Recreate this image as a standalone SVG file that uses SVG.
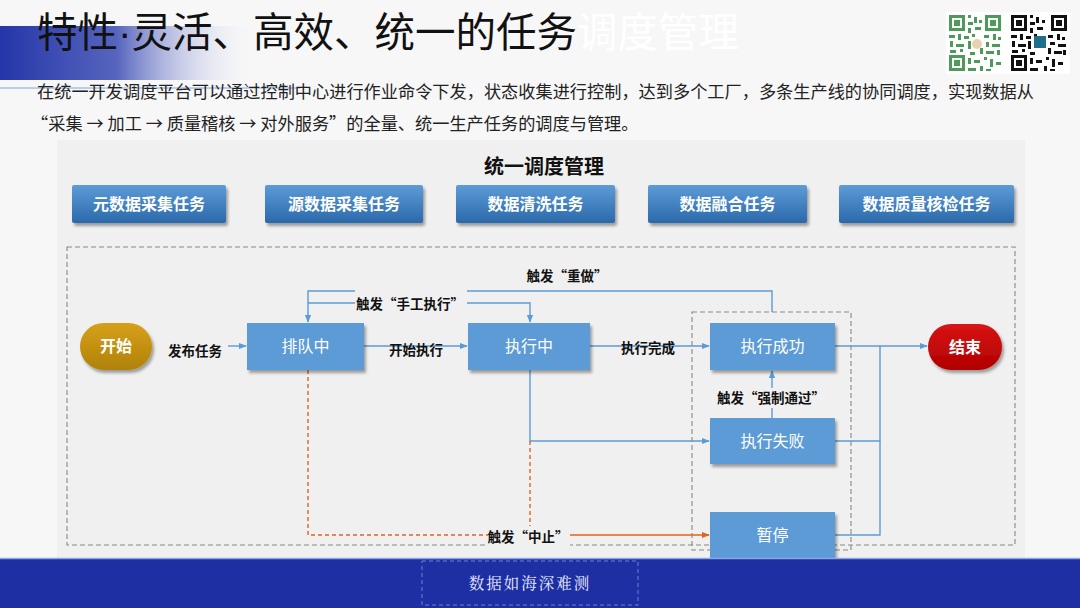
<svg xmlns="http://www.w3.org/2000/svg" width="1080" height="608" viewBox="0 0 1080 608">
<defs>
<linearGradient id="band" x1="0" y1="0" x2="1" y2="0">
<stop offset="0" stop-color="#2436a8"/>
<stop offset="0.45" stop-color="#3a4bb4" stop-opacity="0.85"/>
<stop offset="1" stop-color="#ffffff" stop-opacity="0"/>
</linearGradient>
<linearGradient id="topbox" x1="0" y1="0" x2="0" y2="1">
<stop offset="0" stop-color="#5d9bd8"/>
<stop offset="1" stop-color="#2a69aa"/>
</linearGradient>
<linearGradient id="gold" x1="0" y1="0" x2="0" y2="1">
<stop offset="0" stop-color="#d6a018"/>
<stop offset="1" stop-color="#b0820a"/>
</linearGradient>
<linearGradient id="red" x1="0" y1="0" x2="0" y2="1">
<stop offset="0" stop-color="#d81414"/>
<stop offset="1" stop-color="#b00000"/>
</linearGradient>
<filter id="sh" x="-10%" y="-10%" width="125%" height="135%">
<feDropShadow dx="2" dy="3" stdDeviation="1.6" flood-color="#000" flood-opacity="0.35"/>
</filter>
<marker id="ab" viewBox="0 0 10 10" refX="9" refY="5" markerWidth="8" markerHeight="8" orient="auto" markerUnits="userSpaceOnUse">
<path d="M0,1 L10,5 L0,9 Z" fill="#5b9bd5"/>
</marker>
<marker id="ao" viewBox="0 0 10 10" refX="9" refY="5" markerWidth="8" markerHeight="8" orient="auto" markerUnits="userSpaceOnUse">
<path d="M0,1 L10,5 L0,9 Z" fill="#e0641e"/>
</marker>
<style>
.cjk{font-family:"Noto Sans CJK SC","Noto Sans",sans-serif}
.tb{fill:url(#topbox);filter:url(#sh)}
.tbt{font-family:"Noto Sans CJK SC",sans-serif;font-size:16px;font-weight:bold;fill:#fff;text-anchor:middle}
.fb{fill:#5b9bd5;filter:url(#sh)}
.fbt{font-family:"Noto Sans CJK SC",sans-serif;font-size:16px;fill:#fff;text-anchor:middle}
.lbl{font-family:"Noto Sans CJK SC",sans-serif;font-size:13.5px;font-weight:bold;fill:#111;text-anchor:middle}
.con{fill:none;stroke:#5b9bd5;stroke-width:1.4}
.org{fill:none;stroke:#e0641e;stroke-width:1.4}
.dash{fill:none;stroke:#888;stroke-width:1.1;stroke-dasharray:5 3}
.lbg{fill:#f0f0f0}
</style>
</defs>

<rect width="1080" height="608" fill="#f7f7f7"/>
<!-- title band -->
<rect x="0" y="26" width="260" height="54" fill="url(#band)"/>
<line x1="0" y1="88" x2="300" y2="88" stroke="#7fa6e0" stroke-width="1"/>
<text x="37" y="47" class="cjk" font-size="40.5" fill="#111">特性<tspan font-family="Liberation Sans,sans-serif">·</tspan>灵活、高效、统一的任务<tspan fill="#ffffff">调度管理</tspan></text>
<text x="37" y="98" class="cjk" font-size="17.2" fill="#222">在统一开发调度平台可以通过控制中心进行作业命令下发，状态收集进行控制，达到多个工厂，多条生产线的协同调度，实现数据从</text>
<text x="31" y="130" class="cjk" font-size="17.2" fill="#222">“采集 → 加工 → 质量稽核 → 对外服务”的全量、统一生产任务的调度与管理。</text>

<!-- QR codes -->
<g id="qr">
<rect x="946" y="12" width="124" height="62" fill="#fff"/>
<g fill="#4e9a5a">
<rect x="949" y="15" width="16" height="16"/><rect x="952" y="18" width="10" height="10" fill="#fff"/><rect x="954" y="20" width="6" height="6"/>
<rect x="985" y="15" width="16" height="16"/><rect x="988" y="18" width="10" height="10" fill="#fff"/><rect x="990" y="20" width="6" height="6"/>
<rect x="949" y="55" width="16" height="16"/><rect x="952" y="58" width="10" height="10" fill="#fff"/><rect x="954" y="60" width="6" height="6"/>
<path d="M968,15h3v3h-3zM974,17h3v6h-3zM968,22h5v3h-5zM979,20h3v3h-3zM968,28h3v5h-3zM975,27h6v3h-6zM949,35h6v3h-6zM958,34h3v6h-3zM964,36h5v3h-5zM972,34h3v3h-3zM984,35h5v3h-5zM993,34h3v6h-3zM998,37h3v3h-3zM950,41h3v6h-3zM956,44h8v3h-8zM968,41h3v8h-3zM976,42h5v3h-5zM986,42h3v5h-3zM992,44h8v3h-8zM950,50h6v3h-6zM960,49h3v3h-3zM970,52h5v3h-5zM980,48h3v6h-3zM986,51h8v3h-8zM997,50h3v5h-3zM968,58h3v6h-3zM974,60h6v3h-6zM984,57h3v3h-3zM990,59h3v8h-3zM996,62h5v3h-5zM968,68h8v3h-8zM980,66h3v5h-3zM986,69h5v2h-5z"/>
</g>
<circle cx="977" cy="44" r="5" fill="#e8d2b0"/>
<g fill="#111">
<rect x="1011" y="15" width="16" height="16"/><rect x="1014" y="18" width="10" height="10" fill="#fff"/><rect x="1016" y="20" width="6" height="6"/>
<rect x="1051" y="15" width="16" height="16"/><rect x="1054" y="18" width="10" height="10" fill="#fff"/><rect x="1056" y="20" width="6" height="6"/>
<rect x="1011" y="55" width="16" height="16"/><rect x="1014" y="58" width="10" height="10" fill="#fff"/><rect x="1016" y="60" width="6" height="6"/>
<path d="M1030,15h3v3h-3zM1036,17h3v6h-3zM1030,22h5v3h-5zM1042,20h3v3h-3zM1030,28h3v5h-3zM1037,27h6v3h-6zM1011,35h6v3h-6zM1020,34h3v6h-3zM1026,36h5v3h-5zM1034,34h3v3h-3zM1048,35h5v3h-5zM1057,34h3v6h-3zM1062,37h3v3h-3zM1012,41h3v6h-3zM1018,44h8v3h-8zM1028,41h3v8h-3zM1050,42h5v3h-5zM1058,44h8v3h-8zM1012,50h6v3h-6zM1022,49h3v3h-3zM1030,52h5v3h-5zM1048,48h3v6h-3zM1054,51h8v3h-8zM1063,50h3v5h-3zM1030,58h3v6h-3zM1036,60h6v3h-6zM1046,57h3v3h-3zM1052,59h3v8h-3zM1058,62h5v3h-5zM1030,68h8v3h-8zM1044,66h3v5h-3zM1050,69h5v2h-5z"/>
</g>
<rect x="1034" y="36" width="12" height="12" fill="#1f6f8b"/>
</g>

<!-- panel -->
<rect x="57" y="140" width="968" height="418" fill="#f0f0f0"/>
<text x="544" y="174" class="cjk" font-size="20" font-weight="bold" fill="#111" text-anchor="middle">统一调度管理</text>

<g id="task1"><rect x="72" y="185" width="154" height="38" rx="2" class="tb"/><text x="149" y="210" class="tbt">元数据采集任务</text></g>
<g id="task2"><rect x="265" y="185" width="158" height="38" rx="2" class="tb"/><text x="344" y="210" class="tbt">源数据采集任务</text></g>
<g id="task3"><rect x="456" y="185" width="159" height="38" rx="2" class="tb"/><text x="535.5" y="210" class="tbt">数据清洗任务</text></g>
<g id="task4"><rect x="648" y="185" width="159" height="38" rx="2" class="tb"/><text x="727.5" y="210" class="tbt">数据融合任务</text></g>
<g id="task5"><rect x="839" y="185" width="175" height="38" rx="2" class="tb"/><text x="926.5" y="210" class="tbt">数据质量核检任务</text></g>

<rect x="67" y="247" width="948" height="298" class="dash"/>
<rect x="692" y="312" width="159" height="238" class="dash" stroke="#999"/>

<!-- connectors -->
<g id="connectors">
<path class="con" d="M772,312 V291 H308 V322" marker-end="url(#ab)"/>
<path class="con" d="M308,303 H530 V322" marker-end="url(#ab)"/>
<path class="con" d="M228,346 H246" marker-end="url(#ab)"/>
<path class="con" d="M364,346 H467" marker-end="url(#ab)"/>
<path class="con" d="M590,346 H709" marker-end="url(#ab)"/>
<path class="con" d="M835,346 H927" marker-end="url(#ab)"/>
<path class="con" d="M530,370 V441 H709" marker-end="url(#ab)"/>
<path class="con" d="M772,418 V371" marker-end="url(#ab)"/>
<path class="con" d="M835,441 H880 V346"/>
<path class="con" d="M835,535 H880 V441"/>
<path class="org" d="M308,370 V535 H490" stroke-dasharray="4 3"/>
<path class="org" d="M530,441 V530" stroke-dasharray="4 3"/>
<path class="org" d="M570,535 H709" marker-end="url(#ao)"/>
<rect x="355" y="286" width="112" height="26" class="lbg"/>
<rect x="720" y="388" width="104" height="20" class="lbg"/>
<rect x="488" y="526" width="82" height="20" class="lbg"/>
<text x="195" y="356" class="lbl">发布任务</text>
<text x="416" y="355" class="lbl">开始执行</text>
<text x="648" y="353" class="lbl">执行完成</text>
<text x="567" y="281" class="lbl">触发“重做”</text>
<text x="410" y="309" class="lbl">触发“手工执行”</text>
<text x="771" y="403" class="lbl">触发“强制通过”</text>
<text x="528" y="542" class="lbl">触发“中止”</text>
</g>

<g id="start"><rect x="80" y="323" width="72" height="47" rx="23.5" fill="url(#gold)" filter="url(#sh)"/><text x="116" y="352" class="fbt" font-weight="bold">开始</text></g>
<g id="queue"><rect x="247" y="323" width="117" height="47" class="fb"/><text x="305.5" y="352" class="fbt">排队中</text></g>
<g id="running"><rect x="468" y="323" width="122" height="47" class="fb"/><text x="529" y="352" class="fbt">执行中</text></g>
<g id="success"><rect x="710" y="323" width="125" height="47" class="fb"/><text x="772.5" y="352" class="fbt">执行成功</text></g>
<g id="end"><rect x="928" y="324" width="74" height="46" rx="23" fill="url(#red)" filter="url(#sh)"/><text x="965" y="353" class="fbt" font-weight="bold">结束</text></g>
<g id="failed"><rect x="710" y="418" width="125" height="46" class="fb"/><text x="772.5" y="447" class="fbt">执行失败</text></g>
<g id="paused"><rect x="710" y="512" width="125" height="46" class="fb"/><text x="772.5" y="541" class="fbt">暂停</text></g>

<!-- footer -->
<rect x="0" y="558" width="1080" height="50" fill="#1e2fa3"/>
<line x1="0" y1="558.5" x2="1080" y2="558.5" stroke="#8fa6e6" stroke-width="1.5"/>
<rect x="422" y="561" width="216" height="44" fill="none" stroke="#6f80d0" stroke-width="1" stroke-dasharray="4 3"/>
<text x="530" y="589" font-family="Noto Serif CJK SC,Noto Sans CJK SC,serif" font-size="15.5" fill="#e8ecff" text-anchor="middle" letter-spacing="2">数据如海深难测</text>
</svg>
